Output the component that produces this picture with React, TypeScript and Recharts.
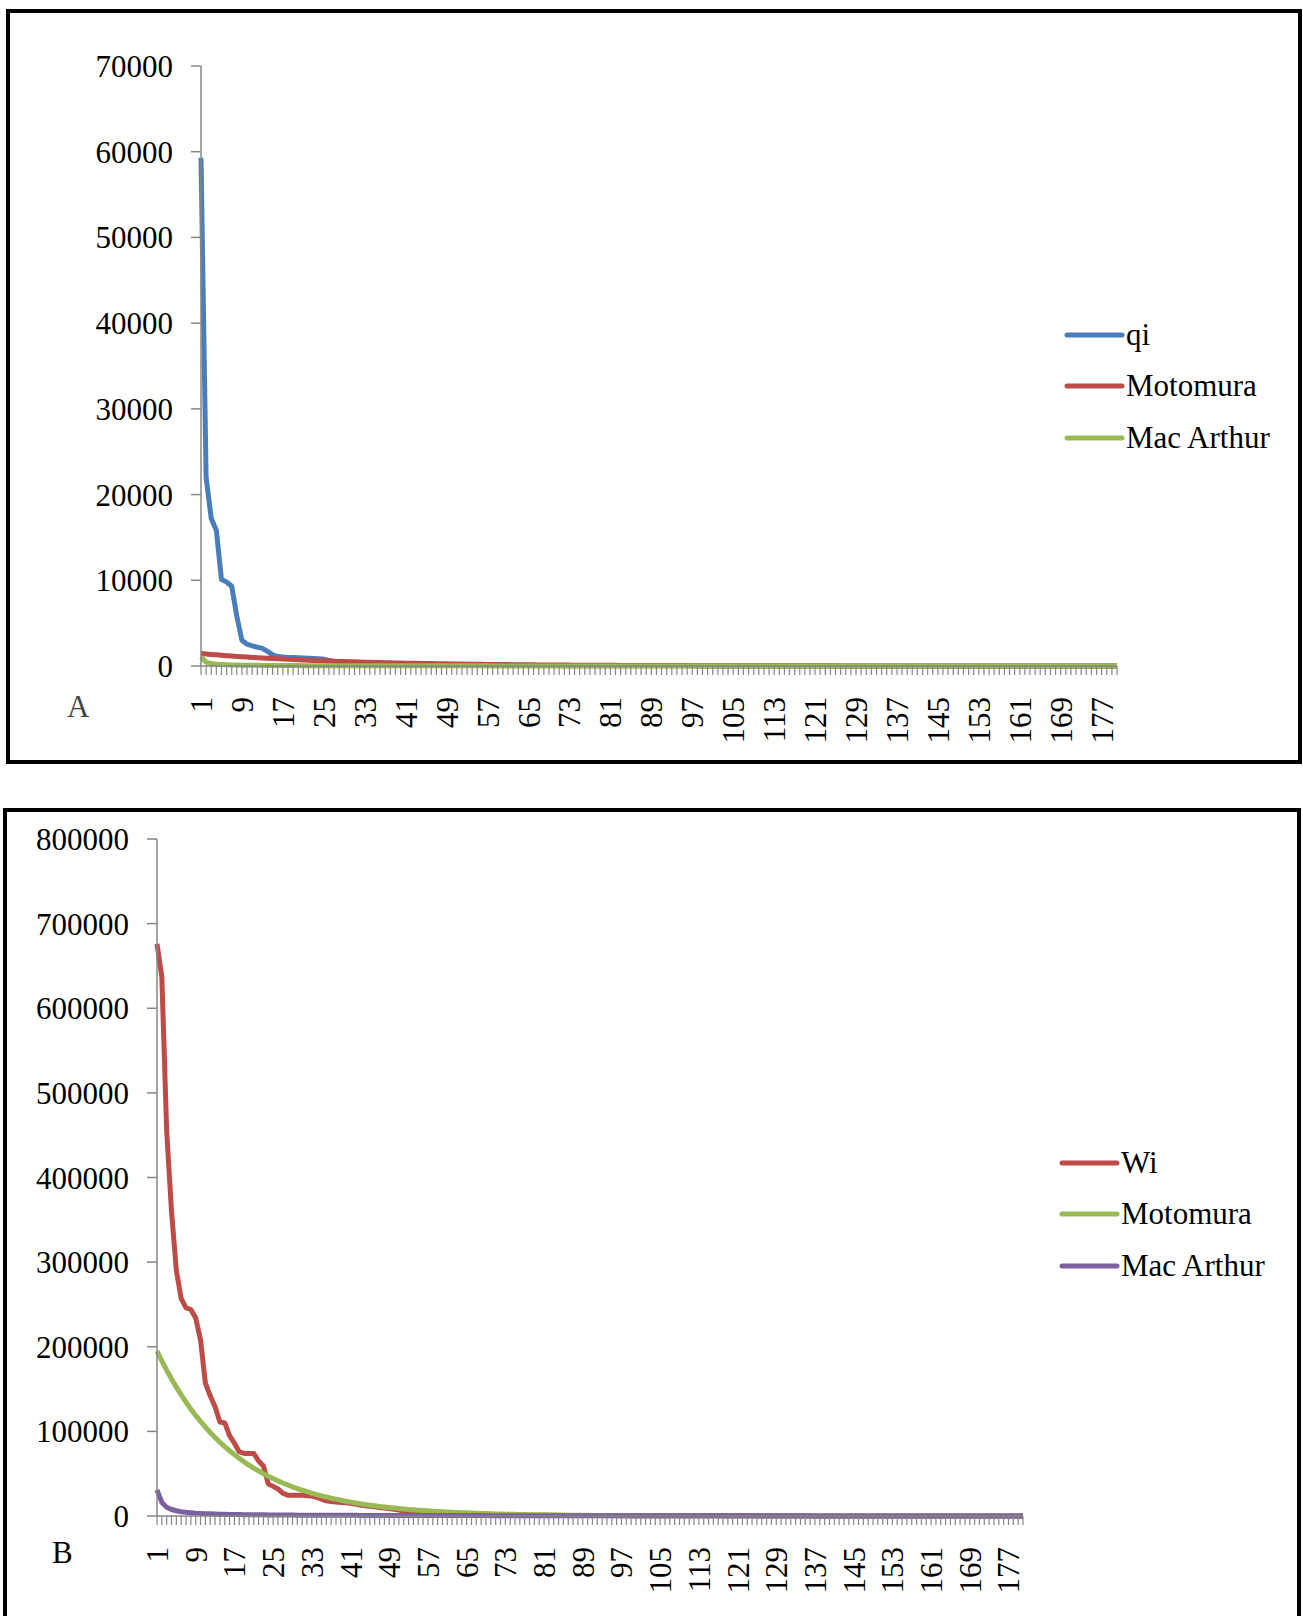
import { Legend, Line, LineChart, XAxis, YAxis } from "recharts";

// category positions 1..180 (labels shown every 8th)
const categories = Array.from({ length: 180 }, (_, i) => String(i + 1));

// Panel A
const qiValues = [
  59300, 22000, 17200, 15800, 10100, 9800, 9300, 5800, 3000, 2550,
  2350, 2200, 2050, 1700, 1300, 1100, 1050, 1000, 980, 950,
  920, 900, 880, 850, 780, 650, 520, 450, 400, 380,
  360, 340, 320, 300, 285, 270, 255, 240, 228, 215,
  205, 195, 185, 175, 165, 157, 149, 141, 134, 127,
  120, 114, 108, 102, 97, 92, 87, 83, 79, 75,
  71, 68, 65, 62, 59, 56, 53, 50, 48, 46,
  44, 42, 40, 38, 36, 34, 33, 32, 30, 29,
  28, 27, 26, 25, 24, 23, 22, 21, 20, 19,
  18, 18, 17, 16, 16, 15, 15, 14, 14, 13,
  13, 12, 12, 11, 11, 11, 10, 10, 10, 9,
  9, 9, 8, 8, 8, 8, 7, 7, 7, 7,
  6, 6, 6, 6, 6, 5, 5, 5, 5, 5,
  5, 4, 4, 4, 4, 4, 4, 4, 3, 3,
  3, 3, 3, 3, 3, 3, 3, 2, 2, 2,
  2, 2, 2, 2, 2, 2, 2, 2, 2, 2,
  1, 1, 1, 1, 1, 1, 1, 1, 1, 1,
  1, 1, 1, 1, 1, 1, 1, 1, 1, 1
];

const motomuraA = [
  1450, 1398, 1347, 1299, 1252, 1207, 1164, 1122, 1081, 1042,
  1005, 969, 934, 900, 868, 837, 806, 777, 749, 722,
  696, 671, 647, 624, 601, 580, 559, 539, 519, 500,
  483, 465, 449, 432, 417, 402, 387, 373, 360, 347,
  334, 322, 311, 300, 289, 278, 268, 259, 249, 240,
  232, 223, 215, 208, 200, 193, 186, 179, 173, 167,
  161, 155, 149, 144, 139, 134, 129, 124, 120, 116,
  111, 107, 103, 100, 96, 93, 89, 86, 83, 80,
  77, 74, 72, 69, 67, 64, 62, 60, 58, 56,
  54, 52, 50, 48, 46, 45, 43, 41, 40, 38,
  37, 36, 34, 33, 32, 31, 30, 29, 28, 27,
  26, 25, 24, 23, 22, 21, 20, 20, 19, 18,
  17, 17, 16, 15, 15, 14, 14, 13, 13, 12,
  12, 11, 11, 10, 10, 10, 9, 9, 8, 8,
  8, 8, 7, 7, 7, 6, 6, 6, 6, 5,
  5, 5, 5, 5, 4, 4, 4, 4, 4, 4,
  3, 3, 3, 3, 3, 3, 3, 3, 2, 2,
  2, 2, 2, 2, 2, 2, 2, 2, 2, 2
];

const macArthurA = [
  1050, 430, 290, 215, 175, 145, 125, 110, 97, 88,
  80, 73, 68, 63, 59, 55, 52, 49, 46, 44,
  42, 40, 38, 37, 35, 34, 33, 31, 30, 29,
  28, 27, 27, 26, 25, 24, 24, 23, 22, 22,
  21, 21, 20, 20, 19, 19, 18, 18, 17, 17,
  17, 16, 16, 16, 15, 15, 15, 14, 14, 14,
  13, 13, 13, 13, 12, 12, 12, 12, 11, 11,
  11, 11, 11, 10, 10, 10, 10, 10, 9, 9,
  9, 9, 9, 9, 8, 8, 8, 8, 8, 8,
  8, 7, 7, 7, 7, 7, 7, 7, 7, 6,
  6, 6, 6, 6, 6, 6, 6, 6, 6, 5,
  5, 5, 5, 5, 5, 5, 5, 5, 5, 5,
  5, 4, 4, 4, 4, 4, 4, 4, 4, 4,
  4, 4, 4, 4, 3, 3, 3, 3, 3, 3,
  3, 3, 3, 3, 3, 3, 3, 3, 2, 2,
  2, 2, 2, 2, 2, 2, 2, 2, 2, 2,
  2, 2, 1, 1, 1, 1, 1, 1, 1, 1,
  1, 1, 1, 1, 1, 1, 1, 0, 0, 0
];

// Panel B
const wiValues = [
  676000, 637000, 455000, 360000, 290000, 257000, 246000, 244000, 234000, 208000,
  157000, 142000, 129000, 111000, 110000, 95000, 86000, 76000, 74000, 74000,
  74000, 65000, 59000, 38000, 35000, 32000, 27000, 24500, 24500, 24500,
  24500, 24000, 23500, 22000, 20000, 18000, 17000, 16500, 16000, 15500,
  15000, 14000, 13000, 12000, 11500, 11000, 10000, 9500, 8800, 8000,
  7000, 6000, 5000, 4200, 3800, 3400, 3000, 2700, 2400, 2200,
  2000, 1900, 1800, 1700, 1600, 1500, 1450, 1400, 1350, 1300,
  1250, 1200, 1150, 1100, 1050, 1000, 960, 920, 880, 840,
  800, 770, 740, 710, 680, 650, 620, 600, 580, 560,
  540, 520, 500, 480, 460, 440, 420, 400, 385, 370,
  355, 340, 325, 310, 300, 290, 280, 270, 260, 250,
  240, 230, 220, 210, 200, 195, 190, 185, 180, 175,
  170, 165, 160, 155, 150, 145, 140, 135, 130, 125,
  120, 115, 110, 105, 100, 97, 94, 91, 88, 85,
  82, 79, 76, 73, 70, 68, 66, 64, 62, 60,
  58, 56, 54, 52, 50, 48, 46, 44, 42, 40,
  38, 36, 34, 32, 30, 28, 26, 24, 22, 20,
  18, 16, 14, 12, 10, 9, 8, 7, 6, 5
];

const motomuraB = [
  195000, 183300, 172300, 162000, 152300, 143100, 134500, 126500, 118900, 111700,
  105000, 98700, 92800, 87200, 82000, 77100, 72500, 68100, 64000, 60200,
  56600, 53200, 50000, 47000, 44200, 41500, 39000, 36700, 34500, 32400,
  30500, 28700, 26900, 25300, 23800, 22400, 21000, 19800, 18600, 17500,
  16400, 15400, 14500, 13600, 12800, 12000, 11300, 10600, 10000, 9400,
  8800, 8300, 7800, 7300, 6900, 6500, 6100, 5700, 5400, 5100,
  4800, 4500, 4200, 3900, 3700, 3500, 3300, 3100, 2900, 2700,
  2500, 2400, 2200, 2100, 2000, 1800, 1700, 1600, 1500, 1400,
  1350, 1270, 1190, 1120, 1050, 990, 930, 870, 820, 770,
  730, 680, 640, 600, 570, 530, 500, 470, 440, 420,
  390, 370, 350, 330, 310, 290, 270, 250, 240, 220,
  210, 200, 190, 180, 170, 160, 150, 140, 130, 120,
  115, 110, 100, 95, 90, 85, 80, 75, 70, 66,
  62, 58, 55, 52, 49, 46, 43, 40, 38, 36,
  34, 32, 30, 28, 26, 25, 23, 22, 21, 20,
  18, 17, 16, 15, 14, 13, 12, 12, 11, 10,
  10, 9, 9, 8, 8, 7, 7, 6, 6, 6,
  5, 5, 5, 4, 4, 4, 4, 3, 3, 3
];

const macArthurB = [
  31000, 16000, 10300, 7700, 6200, 5100, 4400, 3900, 3400, 3100,
  2800, 2600, 2400, 2200, 2050, 1900, 1800, 1700, 1600, 1550,
  1480, 1400, 1350, 1290, 1240, 1190, 1150, 1100, 1070, 1030,
  1000, 970, 940, 910, 890, 860, 840, 820, 800, 780,
  760, 740, 720, 700, 690, 670, 660, 640, 630, 620,
  610, 600, 580, 570, 560, 550, 540, 530, 520, 520,
  510, 500, 490, 480, 470, 470, 460, 450, 450, 440,
  430, 430, 420, 420, 410, 400, 400, 390, 390, 380,
  380, 370, 370, 360, 360, 350, 350, 340, 340, 330,
  330, 330, 320, 320, 310, 310, 300, 300, 300, 290,
  290, 280, 280, 280, 270, 270, 260, 260, 260, 250,
  250, 240, 240, 240, 230, 230, 220, 220, 220, 210,
  210, 200, 200, 200, 190, 190, 180, 180, 180, 170,
  170, 160, 160, 160, 150, 150, 140, 140, 140, 130,
  130, 120, 120, 120, 110, 110, 100, 100, 100, 90,
  90, 80, 80, 80, 70, 70, 60, 60, 60, 50,
  50, 45, 40, 38, 35, 32, 30, 28, 25, 22,
  20, 18, 15, 13, 10, 8, 6, 4, 2, 1
];

const yTicksA = [0, 10000, 20000, 30000, 40000, 50000, 60000, 70000];
const yTicksB = [0, 100000, 200000, 300000, 400000, 500000, 600000, 700000, 800000];

const legendOrderA = ["qi", "Motomura", "Mac Arthur"];
const legendOrderB = ["Wi", "Motomura", "Mac Arthur"];

const dataA = categories.map((cat, i) => ({
  cat,
  qi: qiValues[i],
  motomura: motomuraA[i],
  macArthur: macArthurA[i]
}));

const dataB = categories.map((cat, i) => ({
  cat,
  wi: wiValues[i],
  motomura: motomuraB[i],
  macArthur: macArthurB[i]
}));

const FONT = "Liberation Serif, Times New Roman, serif";
const AXIS_GREY = "#868686";

function CategoryTick(props: any) {
  const { x, y, payload } = props;
  if (Number(payload.value) % 8 !== 1) return <g />;
  return (
    <text
      x={x}
      y={y}
      dy="0.355em"
      textAnchor="end"
      transform={`rotate(-90, ${x}, ${y})`}
      fontSize={31}
      fill="#000"
      fontFamily={FONT}
    >
      {payload.value}
    </text>
  );
}

function LegendBox(props: any) {
  const order: string[] = props.order;
  const items = [...(props.payload || [])].sort(
    (a: any, b: any) => order.indexOf(a.value) - order.indexOf(b.value)
  );
  return (
    <div style={{ fontFamily: FONT, fontSize: 31, color: "#000" }}>
      {items.map((entry: any) => (
        <div key={entry.value} style={{ display: "flex", alignItems: "center", height: 51.5 }}>
          <svg width={62} height={10} style={{ display: "block" }}>
            <line x1={3} y1={5} x2={58} y2={5} stroke={entry.color} strokeWidth={5} strokeLinecap="round" />
          </svg>
          <span style={{ whiteSpace: "nowrap" }}>{entry.value}</span>
        </div>
      ))}
    </div>
  );
}

const tickStyle = { fill: "#000", fontSize: 31, fontFamily: FONT };
const LINE_W = 5;

export default function App() {
  return (
    <div
      style={{
        position: "absolute",
        left: 0,
        top: 0,
        width: 1303,
        height: 1616,
        overflow: "hidden",
        background: "#fff",
        fontFamily: FONT
      }}
    >
      <style>{`.recharts-text, .recharts-cartesian-axis-tick-value { font-family: "Liberation Serif", "Times New Roman", serif; }`}</style>

      {/* frames */}
      <div style={{ position: "absolute", left: 6, top: 9, width: 1296, height: 755, border: "4px solid #000", boxSizing: "border-box" }} />
      <div style={{ position: "absolute", left: 3, top: 808, width: 1298, height: 830, border: "4px solid #000", boxSizing: "border-box" }} />

      <div style={{ position: "absolute", left: 67, top: 691, fontSize: 31, lineHeight: "31px", color: "#444" }}>A</div>
      <div style={{ position: "absolute", left: 52, top: 1537, fontSize: 31, lineHeight: "31px", color: "#000" }}>B</div>

      <div style={{ position: "absolute", left: 0, top: 0 }}>
        <LineChart width={1303} height={770} data={dataA} margin={{ top: 66, right: 186, bottom: 0, left: 0 }}>
          <XAxis
            dataKey="cat"
            scale="point"
            padding={{ left: 0, right: 0 }}
            interval={0}
            height={104}
            tickSize={9}
            tickMargin={22}
            tick={(p: any) => <CategoryTick {...p} />}
            axisLine={{ stroke: AXIS_GREY, strokeWidth: 1.5 }}
            tickLine={{ stroke: AXIS_GREY, strokeWidth: 1.2 }}
          />
          <YAxis
            width={201}
            domain={[0, 70000]}
            ticks={yTicksA}
            interval={0}
            tickSize={10}
            tickMargin={18}
            tick={tickStyle}
            axisLine={{ stroke: AXIS_GREY, strokeWidth: 1.5 }}
            tickLine={{ stroke: AXIS_GREY, strokeWidth: 1.5 }}
          />
          <Legend
            layout="vertical"
            align="center"
            verticalAlign="middle"
            content={(p: any) => <LegendBox {...p} order={legendOrderA} />}
            wrapperStyle={{ left: 1064, top: 309, width: 240 }}
          />
          <Line type="linear" dataKey="qi" name="qi" stroke="#4A7EBB" strokeWidth={LINE_W} dot={false} activeDot={false} strokeLinejoin="round" isAnimationActive={false} />
          <Line type="linear" dataKey="motomura" name="Motomura" stroke="#BE4B48" strokeWidth={LINE_W} dot={false} activeDot={false} strokeLinejoin="round" isAnimationActive={false} />
          <Line type="linear" dataKey="macArthur" name="Mac Arthur" stroke="#98B954" strokeWidth={LINE_W} dot={false} activeDot={false} strokeLinejoin="round" isAnimationActive={false} />
        </LineChart>
      </div>

      <div style={{ position: "absolute", left: 0, top: 780 }}>
        <LineChart width={1303} height={836} data={dataB} margin={{ top: 59, right: 280, bottom: 0, left: 0 }}>
          <XAxis
            dataKey="cat"
            scale="point"
            padding={{ left: 0, right: 0 }}
            interval={0}
            height={100}
            tickSize={9}
            tickMargin={22}
            tick={(p: any) => <CategoryTick {...p} />}
            axisLine={{ stroke: AXIS_GREY, strokeWidth: 1.5 }}
            tickLine={{ stroke: AXIS_GREY, strokeWidth: 1.2 }}
          />
          <YAxis
            width={157}
            domain={[0, 800000]}
            ticks={yTicksB}
            interval={0}
            tickSize={10}
            tickMargin={18}
            tick={tickStyle}
            axisLine={{ stroke: AXIS_GREY, strokeWidth: 1.5 }}
            tickLine={{ stroke: AXIS_GREY, strokeWidth: 1.5 }}
          />
          <Legend
            layout="vertical"
            align="center"
            verticalAlign="middle"
            content={(p: any) => <LegendBox {...p} order={legendOrderB} />}
            wrapperStyle={{ left: 1059, top: 357, width: 240 }}
          />
          <Line type="linear" dataKey="wi" name="Wi" stroke="#BE4B48" strokeWidth={LINE_W} dot={false} activeDot={false} strokeLinejoin="round" isAnimationActive={false} />
          <Line type="linear" dataKey="motomura" name="Motomura" stroke="#98B954" strokeWidth={LINE_W} dot={false} activeDot={false} strokeLinejoin="round" isAnimationActive={false} />
          <Line type="linear" dataKey="macArthur" name="Mac Arthur" stroke="#7D60A0" strokeWidth={LINE_W} dot={false} activeDot={false} strokeLinejoin="round" isAnimationActive={false} />
        </LineChart>
      </div>
    </div>
  );
}
